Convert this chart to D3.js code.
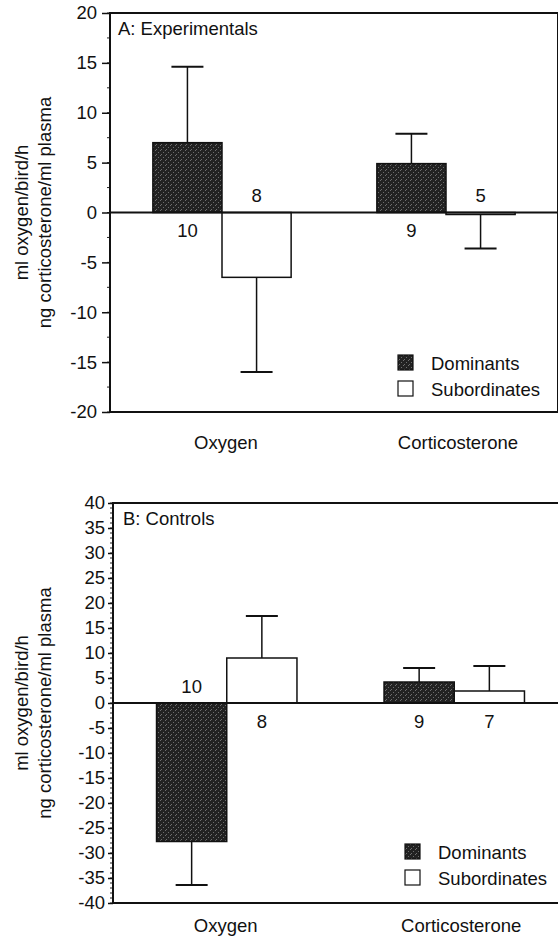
<!DOCTYPE html>
<html>
<head>
<meta charset="utf-8">
<script src="https://cdn.jsdelivr.net/npm/d3@7"></script>
<style>
  body { margin: 0; background: #fff; }
  svg { display: block; font-family: "Liberation Sans", Arial, sans-serif; }
</style>
</head>
<body>
<div id="chart"></div>
<script>
// values
const categories = ['Oxygen', 'Corticosterone'];
const groups = ['Dominants', 'Subordinates'];

// A: Experimentals
const expDominant = [7.0, 4.9];
const expDominantErr = [7.6, 3.0];
const expSubordinate = [-6.5, -0.2];
const expSubordinateErr = [9.5, 3.4];
const expDominantN = [10, 9];
const expSubordinateN = [8, 5];

// B: Controls
const ctlDominant = [-27.7, 4.2];
const ctlDominantErr = [8.7, 2.8];
const ctlSubordinate = [9.0, 2.4];
const ctlSubordinateErr = [8.4, 5.0];
const ctlDominantN = [10, 9];
const ctlSubordinateN = [8, 7];

const yLabelLines = ['ml oxygen/bird/h', 'ng corticosterone/ml plasma'];

const W = 558, H = 937;
const FONT = 18.5;

const svg = d3.select('#chart').append('svg')
    .attr('width', W)
    .attr('height', H);

// stippled dark fill for the dominant bars
const defs = svg.append('defs');
const pat = defs.append('pattern')
    .attr('id', 'stipple')
    .attr('patternUnits', 'userSpaceOnUse')
    .attr('width', 5).attr('height', 5);
pat.append('rect').attr('width', 5).attr('height', 5).attr('fill', '#222');
[[0, 0], [3, 2], [1, 4]].forEach(([px, py]) => {
    pat.append('rect').attr('x', px).attr('y', py).attr('width', 1).attr('height', 1).attr('fill', '#6e6e6e');
});

function buildRows(dom, domErr, domN, sub, subErr, subN) {
    const rows = [];
    categories.forEach((cat, i) => {
        rows.push({ cat, group: groups[0], value: dom[i], err: domErr[i], n: domN[i] });
        rows.push({ cat, group: groups[1], value: sub[i], err: subErr[i], n: subN[i] });
    });
    return rows;
}

function drawPanel(cfg) {
    const { left, right, top, bottom, domain, minorStep, rows, title } = cfg;
    const g = svg.append('g');

    const y = d3.scaleLinear().domain(domain).range([bottom, top]);
    const x0 = d3.scaleBand().domain(categories).range([left, right]).padding(0);
    const x1 = d3.scaleBand().domain(groups).range([0, x0.bandwidth()])
        .paddingInner(0).paddingOuter(0.62);

    // minor ticks
    const minor = d3.range(domain[0], domain[1] + 0.001, minorStep);
    g.append('g').selectAll('line').data(minor).join('line')
        .attr('x1', left - 3).attr('x2', left)
        .attr('y1', d => y(d)).attr('y2', d => y(d))
        .attr('stroke', '#222').attr('stroke-width', 1);

    // y axis
    const axis = d3.axisLeft(y)
        .tickValues(d3.range(domain[0], domain[1] + 0.001, 5))
        .tickFormat(d => String(d))
        .tickSize(cfg.tickSize)
        .tickPadding(cfg.tickPad);
    const ax = g.append('g')
        .attr('transform', `translate(${left},0)`)
        .call(axis);
    ax.select('.domain').remove();
    ax.selectAll('line').attr('stroke', '#111').attr('stroke-width', 1.5);
    ax.selectAll('text')
        .attr('font-size', FONT)
        .attr('fill', '#111')
        .attr('font-family', '"Liberation Sans", Arial, sans-serif');

    // frame
    g.append('rect')
        .attr('x', left).attr('y', top)
        .attr('width', right - left).attr('height', bottom - top)
        .attr('fill', 'none').attr('stroke', '#111').attr('stroke-width', 2);

    // bars
    const barX = d => x0(d.cat) + x1(d.group);
    const bw = x1.bandwidth();
    g.append('g').selectAll('rect').data(rows).join('rect')
        .attr('x', barX)
        .attr('y', d => y(Math.max(0, d.value)))
        .attr('width', bw)
        .attr('height', d => Math.max(1.5, Math.abs(y(d.value) - y(0))))
        .attr('fill', d => d.group === groups[0] ? 'url(#stipple)' : '#fff')
        .attr('stroke', '#111')
        .attr('stroke-width', 1.5);

    // error bars, one-sided away from zero
    const eb = g.append('g').selectAll('g').data(rows).join('g');
    const tip = d => d.value + Math.sign(d.value) * d.err;
    eb.append('line')
        .attr('x1', d => barX(d) + bw / 2).attr('x2', d => barX(d) + bw / 2)
        .attr('y1', d => y(d.value)).attr('y2', d => y(tip(d)))
        .attr('stroke', '#111').attr('stroke-width', 1.5);
    eb.append('line')
        .attr('x1', d => barX(d) + bw / 2 - 16).attr('x2', d => barX(d) + bw / 2 + 16)
        .attr('y1', d => y(tip(d))).attr('y2', d => y(tip(d)))
        .attr('stroke', '#111').attr('stroke-width', 2);

    // zero line
    g.append('line')
        .attr('x1', left).attr('x2', right)
        .attr('y1', y(0)).attr('y2', y(0))
        .attr('stroke', '#111').attr('stroke-width', 2);

    // sample sizes on the other side of zero
    g.append('g').selectAll('text').data(rows).join('text')
        .attr('x', d => barX(d) + bw / 2)
        .attr('y', d => y(0) + (d.value >= 0 ? 18 : -17))
        .attr('text-anchor', 'middle')
        .attr('dominant-baseline', 'central')
        .attr('font-size', FONT)
        .attr('fill', '#111')
        .text(d => d.n);

    // panel title
    g.append('text')
        .attr('x', left + cfg.titleDx).attr('y', top + 15)
        .attr('dominant-baseline', 'central')
        .attr('font-size', FONT)
        .attr('fill', '#111')
        .text(title);

    // category labels
    g.append('g').selectAll('text').data(categories).join('text')
        .attr('x', d => x0(d) + x0.bandwidth() / 2 + (d === 'Oxygen' ? 4 : 12) - (right - 558) * 0.5)
        .attr('y', bottom + cfg.labelDy)
        .attr('text-anchor', 'middle')
        .attr('dominant-baseline', 'central')
        .attr('font-size', FONT)
        .attr('fill', '#111')
        .text(d => d);

    // y label
    const yc = (top + bottom) / 2;
    yLabelLines.forEach((line, i) => {
        g.append('text')
            .attr('transform', `translate(${28 + i * 23},${yc}) rotate(-90)`)
            .attr('text-anchor', 'middle')
            .attr('font-size', FONT)
            .attr('fill', '#111')
            .text(line);
    });

    // legend
    const leg = g.append('g').selectAll('g').data(groups).join('g')
        .attr('transform', (d, i) => `translate(${cfg.legendX},${bottom - cfg.legendUp + i * 26})`);
    leg.append('rect')
        .attr('width', 15).attr('height', 15)
        .attr('fill', (d, i) => i === 0 ? 'url(#stipple)' : '#fff')
        .attr('stroke', '#111').attr('stroke-width', 1.2);
    leg.append('text')
        .attr('x', 33).attr('y', 8)
        .attr('dominant-baseline', 'central')
        .attr('font-size', FONT)
        .attr('fill', '#111')
        .text(d => d);
}

drawPanel({
    title: 'A: Experimentals', titleDx: 8,
    left: 110, right: 558, top: 13, bottom: 412,
    domain: [-20, 20], minorStep: 2.5,
    tickSize: 8, tickPad: 5, labelDy: 30,
    legendX: 398, legendUp: 57,
    rows: buildRows(expDominant, expDominantErr, expDominantN, expSubordinate, expSubordinateErr, expSubordinateN)
});

drawPanel({
    title: 'B: Controls', titleDx: 10,
    left: 113, right: 568, top: 503, bottom: 903,
    domain: [-40, 40], minorStep: 1,
    tickSize: 5, tickPad: 3, labelDy: 22,
    legendX: 405, legendUp: 59,
    rows: buildRows(ctlDominant, ctlDominantErr, ctlDominantN, ctlSubordinate, ctlSubordinateErr, ctlSubordinateN)
});
</script>
</body>
</html>
